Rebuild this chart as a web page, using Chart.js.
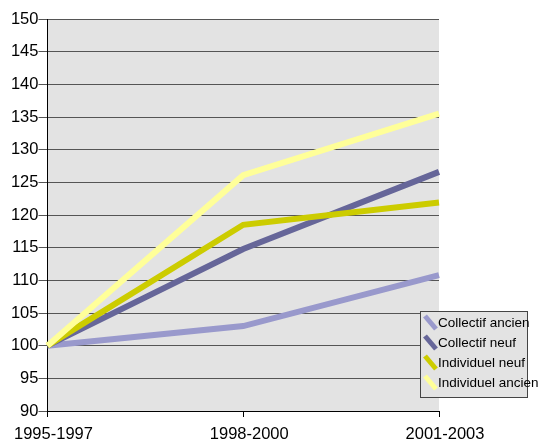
<!DOCTYPE html>
<html>
<head>
<meta charset="utf-8">
<script src="https://cdn.jsdelivr.net/npm/chart.js@4/dist/chart.umd.min.js"></script>
<style>
  html, body { margin: 0; padding: 0; background: #ffffff; }
  #wrap { width: 540px; height: 443px; }
</style>
</head>
<body>
<div id="wrap"><canvas id="c" width="540" height="443"></canvas></div>
<script>
// Periods on the x axis
const periods = ['1995-1997', '1998-2000', '2001-2003'];

// Index values per housing type (base 100 = 1995-1997)
const collectifAncien = [100, 103.0, 110.8];
const collectifNeuf = [100, 114.8, 126.6];
const individuelNeuf = [100, 118.5, 121.9];
const individuelAncien = [100, 126.1, 135.5];

const seriesNames = ['Collectif ancien', 'Collectif neuf', 'Individuel neuf', 'Individuel ancien'];
const seriesColors = ['#9999cc', '#666699', '#cccc00', '#ffff99'];

// y axis range
const yMin = 90, yMax = 150, yStep = 5;

const FONT = 'Liberation Sans, Arial, sans-serif';

// grey plot background
const plotBackground = {
  id: 'plotBackground',
  beforeDraw(chart) {
    const { ctx, chartArea: a } = chart;
    ctx.save();
    ctx.fillStyle = '#e3e3e3';
    ctx.fillRect(a.left, a.top, a.right - a.left, a.bottom - a.top);
    ctx.restore();
  }
};

// boxed legend with slanted line swatches, drawn over the lower right corner
const boxLegend = {
  id: 'boxLegend',
  afterDraw(chart) {
    const { ctx } = chart;
    const x = 420, y = 311, w = 107, h = 86;
    ctx.save();
    ctx.fillStyle = '#e3e3e3';
    ctx.fillRect(x, y, w, h);
    ctx.strokeStyle = '#444444';
    ctx.lineWidth = 1;
    ctx.strokeRect(x + 0.5, y + 0.5, w, h);
    ctx.font = '13.5px ' + FONT;
    ctx.textBaseline = 'middle';
    ctx.textAlign = 'left';
    chart.data.datasets.forEach((ds, i) => {
      const cy = y + 12 + i * 20;
      ctx.strokeStyle = ds.borderColor;
      ctx.lineWidth = 5;
      ctx.lineCap = 'butt';
      ctx.beginPath();
      ctx.moveTo(425, cy - 7);
      ctx.lineTo(436, cy + 6);
      ctx.stroke();
      ctx.fillStyle = '#000000';
      ctx.fillText(ds.label, 438, cy);
    });
    ctx.restore();
  }
};

const seriesValues = [collectifAncien, collectifNeuf, individuelNeuf, individuelAncien];

new Chart(document.getElementById('c'), {
  type: 'line',
  data: {
    labels: periods,
    datasets: seriesNames.map((name, i) => ({
      label: name,
      data: seriesValues[i],
      borderColor: seriesColors[i],
      backgroundColor: seriesColors[i],
      borderWidth: 6,
      pointRadius: 0,
      tension: 0,
      fill: false,
      order: 3 - i
    }))
  },
  options: {
    responsive: false,
    animation: false,
    devicePixelRatio: 1,
    layout: { padding: { top: 19, right: 101, left: 0, bottom: 0 } },
    plugins: {
      legend: { display: false },
      tooltip: { enabled: false }
    },
    scales: {
      x: {
        type: 'category',
        offset: false,
        afterFit(scale) { scale.height = 32; },
        grid: {
          drawOnChartArea: false,
          drawTicks: true,
          tickLength: 6,
          color: '#000000'
        },
        border: { color: '#000000', width: 1 },
        ticks: {
          color: '#000000',
          font: { family: FONT, size: 16.5 },
          padding: 8,
          labelOffset: 6,
          maxRotation: 0,
          autoSkip: false
        }
      },
      y: {
        min: yMin,
        max: yMax,
        afterFit(scale) { scale.width = 47; },
        grid: {
          drawOnChartArea: true,
          drawTicks: true,
          tickLength: 9,
          color: '#555555'
        },
        border: { color: '#000000', width: 1 },
        ticks: {
          stepSize: yStep,
          color: '#000000',
          font: { family: FONT, size: 16.5 },
          padding: 0
        }
      }
    }
  },
  plugins: [plotBackground, boxLegend]
});
</script>
</body>
</html>
